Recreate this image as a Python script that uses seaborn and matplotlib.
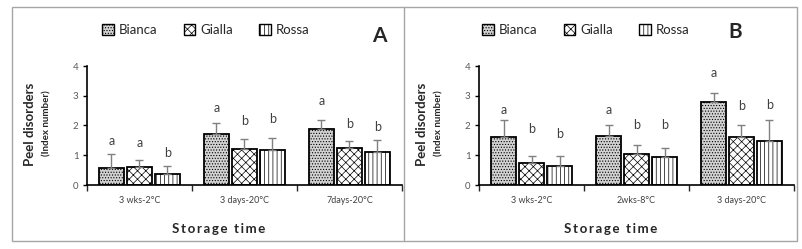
import numpy as np
import pandas as pd
import matplotlib
matplotlib.use("Agg")
import matplotlib.pyplot as plt
import seaborn as sns
from matplotlib.patches import Patch, Rectangle
from matplotlib.lines import Line2D

# ---- data ----
varieties = ["Bianca", "Gialla", "Rossa"]

cats_a = ["3 wks-2°C", "3 days-20°C", "7days-20°C"]
bianca_a = [0.58, 1.72, 1.87]
gialla_a = [0.62, 1.20, 1.23]
rossa_a = [0.36, 1.17, 1.12]
bianca_a_err = [0.47, 0.37, 0.30]
gialla_a_err = [0.23, 0.34, 0.26]
rossa_a_err = [0.27, 0.40, 0.38]
letters_a = [["a", "a", "a"], ["a", "b", "b"], ["b", "b", "b"]]
letter_y_a = [[1.48, 2.58, 2.83], [1.42, 2.16, 2.05], [1.06, 2.22, 1.96]]

cats_b = ["3 wks-2°C", "2wks-8°C", "3 days-20°C"]
bianca_b = [1.60, 1.66, 2.80]
gialla_b = [0.73, 1.05, 1.60]
rossa_b = [0.65, 0.95, 1.48]
bianca_b_err = [0.57, 0.34, 0.30]
gialla_b_err = [0.24, 0.28, 0.42]
rossa_b_err = [0.31, 0.28, 0.70]
letters_b = [["a", "a", "a"], ["b", "b", "b"], ["b", "b", "b"]]
letter_y_b = [[2.52, 2.53, 3.76], [1.88, 2.02, 2.67], [1.72, 2.02, 2.68]]

sns.set_style("white")
plt.rcParams["font.family"] = ["Lato", "DejaVu Sans"]
plt.rcParams["hatch.linewidth"] = 0.5

fills = ["#d2d2d2", "white", "white"]
hatches = ["......", "xxxx", "||||"]
hatch_cols = ["#808080", "#666666", "#999999"]
W, H = 803, 249


def make_df(cats, b, g, r):
    rows = []
    for name, vals in zip(varieties, [b, g, r]):
        for c, v in zip(cats, vals):
            rows.append({"time": c, "variety": name, "value": v})
    return pd.DataFrame(rows)


def spaced(s):
    # imitate the letter-spaced axis title
    return "\u2009".join(s)


def draw_panel(left_px, cats, vals, errs, letters, letter_y, tag, tag_xy, leg_x):
    ax = fig.add_axes([left_px / W, 64 / H, 315 / W, 119 / H])
    df = make_df(cats, *vals)
    sns.barplot(data=df, x="time", y="value", hue="variety", order=cats,
                hue_order=varieties, errorbar=None, width=0.8, gap=0.12,
                palette=fills, edgecolor="black", linewidth=1.3,
                legend=False, ax=ax)
    bar_conts = list(ax.containers)
    for i, cont in enumerate(bar_conts):
        xs = []
        for p in cont.patches:
            p.set_hatch(hatches[i])
            try:
                p.set_hatchcolor(hatch_cols[i])
            except AttributeError:
                pass
            xs.append(p.get_x() + p.get_width() / 2)
        ax.errorbar(xs, vals[i], yerr=[np.zeros(3), errs[i]], fmt="none",
                    ecolor="#808080", elinewidth=1, capsize=3, capthick=1,
                    zorder=1)
        for x, lab, ly in zip(xs, letters[i], letter_y[i]):
            ax.text(x, ly, lab, ha="center", va="center", fontsize=9,
                    color="#404040", clip_on=False)
    ax.set_ylim(0, 4)
    ax.set_xlim(-0.5, 2.5)
    ax.set_yticks([0, 1, 2, 3, 4])
    ax.tick_params(axis="y", length=3, width=1, colors="black",
                   labelcolor="#595959", labelsize=7, pad=3, direction="out", left=True)
    ax.set_xticks([-0.5, 0.5, 1.5, 2.5])
    ax.set_xticklabels([])
    ax.set_xticks([0, 1, 2], minor=True)
    ax.set_xticklabels(cats, minor=True)
    ax.tick_params(axis="x", which="major", length=4, width=1, direction="out", bottom=True)
    ax.tick_params(axis="x", which="minor", length=0, labelsize=6.5,
                   labelcolor="#404040", pad=8)
    for s in ["top", "right"]:
        ax.spines[s].set_visible(False)
    for s in ["left", "bottom"]:
        ax.spines[s].set_color("black")
        ax.spines[s].set_linewidth(1.2)
    ax.set_xlabel("")
    ax.set_ylabel("")

    # y label in two lines
    fig.text((left_px - 57) / W, 1 - 124 / H, "Peel disorders", rotation=90,
             ha="center", va="center", fontsize=9.5, fontweight="bold")
    fig.text((left_px - 40) / W, 1 - 123 / H, "(Index number)", rotation=90,
             ha="center", va="center", fontsize=7, fontweight="bold")
    fig.text((left_px + 132) / W, 1 - 229 / H, spaced("Storage time"),
             ha="center", va="center", fontsize=9.5, fontweight="bold",
             family=["Lato", "DejaVu Sans"])
    fig.text(tag_xy[0] / W, 1 - tag_xy[1] / H, tag, ha="center", va="center",
             fontsize=15, fontweight="bold")

    handles = [Patch(facecolor=fills[i], edgecolor="black", hatch=hatches[i],
                     linewidth=1) for i in range(3)]
    fig.legend(handles, varieties, loc="center left",
               bbox_to_anchor=(leg_x / W, 1 - 30 / H), ncol=3, frameon=False,
               fontsize=9.5, handlelength=0.9, handleheight=0.9,
               handletextpad=0.35, columnspacing=2.0, borderpad=0,
               borderaxespad=0)
    return ax


fig = plt.figure(figsize=(W / 100, H / 100), dpi=100)

draw_panel(87, cats_a, [bianca_a, gialla_a, rossa_a],
           [bianca_a_err, gialla_a_err, rossa_a_err], letters_a, letter_y_a,
           "A", (379, 36), 102)
draw_panel(479, cats_b, [bianca_b, gialla_b, rossa_b],
           [bianca_b_err, gialla_b_err, rossa_b_err], letters_b, letter_y_b,
           "B", (735, 32), 482)

# outer frame and divider
fig.add_artist(Rectangle((12 / W, 1 - 241 / H), 785 / W, 234 / H,
                         transform=fig.transFigure, fill=False,
                         edgecolor="#a6a6a6", linewidth=1))
fig.add_artist(Line2D([404 / W, 404 / W], [1 - 241 / H, 1 - 7 / H],
                      transform=fig.transFigure, color="#a6a6a6", linewidth=1))

fig.savefig("out.png", dpi=100)
